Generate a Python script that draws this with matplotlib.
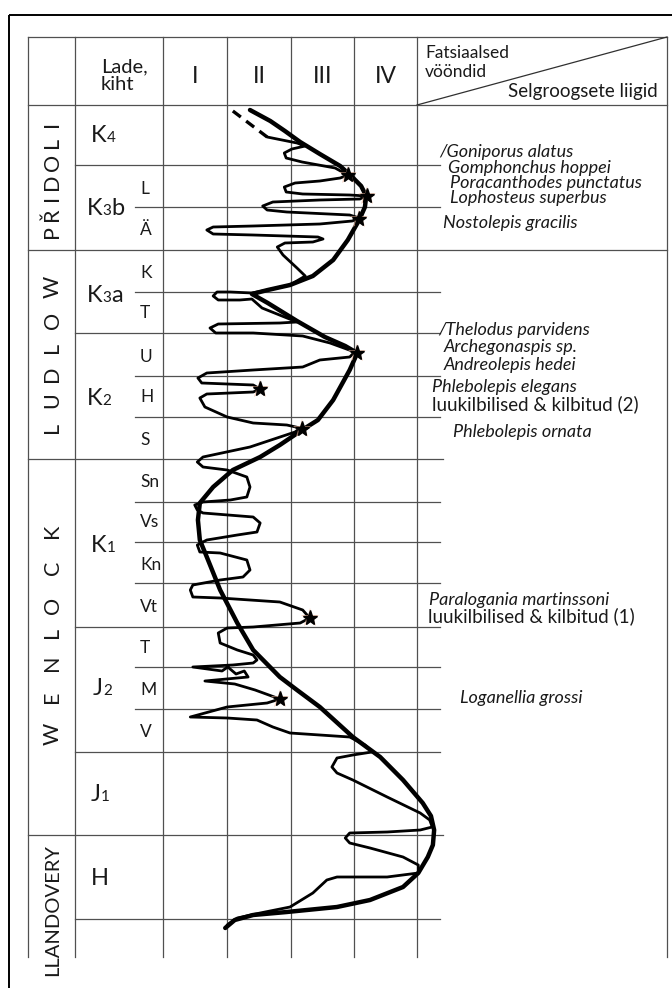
import matplotlib.pyplot as plt
from matplotlib.patches import Rectangle

plt.rcParams['font.family'] = ['Lato', 'DejaVu Sans']

W, H = 672, 988

# table grid, px
col_x = [28, 75, 163, 227, 291, 354, 417, 667]
top_y, head_y, bottom_y = 37, 105, 957
series_y = [250, 459, 835]
stage_y = [165, 333, 627, 752, 919]
sub_y = [207, 292, 376, 417, 502, 542, 583, 667, 709]

zones = ['I', 'II', 'III', 'IV']

# series names, letters from the bottom up
series_names = ['PŘIDOLI', 'LUDLOW', 'WENLOCK']
series_letter_y = [
    [232, 214, 198, 182, 162, 142, 124],
    [427, 400, 374, 347, 320, 287],
    [734, 697, 663, 632, 605, 568, 531],
]

# stages (lade): letter, index, suffix, baseline
stage_main = ['K', 'K', 'K', 'K', 'K', 'J', 'J', 'H']
stage_num = ['4', '3', '3', '2', '1', '2', '1', '']
stage_tail = ['', 'b', 'a', '', '', '', '', '']
stage_base = [142, 215, 302, 405, 552, 695, 801, 885]
stage_left = [91, 87, 87, 87, 91, 93, 91, 91]

# beds (kiht)
bed_names = ['L', 'Ä', 'K', 'T', 'U', 'H', 'S', 'Sn', 'Vs', 'Kn', 'Vt', 'T', 'M', 'V']
bed_base = [194, 235, 278, 318, 362, 402, 445, 487, 527, 570, 612, 653, 695, 737]

# vertebrate taxa
taxa = ['/Goniporus alatus', 'Gomphonchus hoppei', 'Poracanthodes punctatus',
        'Lophosteus superbus', 'Nostolepis gracilis', '/Thelodus parvidens',
        'Archegonaspis sp.', 'Andreolepis hedei', 'Phlebolepis elegans',
        'luukilbilised & kilbitud (2)', 'Phlebolepis ornata',
        'Paralogania martinssoni', 'luukilbilised & kilbitud (1)',
        'Loganellia grossi']
taxa_x = [439, 448, 450, 450, 443, 438, 444, 444, 432, 432, 453, 429, 428, 460]
taxa_base = [157, 173, 188, 203, 228, 335, 352, 370, 392, 410, 437, 605, 622, 703]
taxa_italic = [True] * 9 + [False, True, True, False, True]

# facies curves: zone position (0..4 across I-IV) vs level (px)
thin_zone = [1.64, 2.11, 2.24, 2.03, 1.91, 1.94, 2.19, 2.71, 2.91, 2.79, 2.47, 2.08,
             1.91, 1.94, 2.20, 2.94, 3.20, 3.10, 2.47, 1.73, 1.57, 1.64, 1.95, 2.94,
             3.09, 2.98, 2.47, 1.42, 0.79, 0.69, 0.79, 1.42, 2.44, 2.52, 2.36, 1.92,
             1.80, 1.89, 2.11, 2.24, 2.00, 1.65, 1.40, 1.06, 0.85, 0.79, 0.87, 1.21,
             1.40, 1.56, 2.11, 1.84, 0.87, 0.74, 0.83, 1.42, 2.20, 2.63, 3.02, 2.94,
             2.47, 2.20, 1.42, 0.69, 0.55, 0.61, 1.42, 1.53, 1.42, 0.69, 0.58, 0.66,
             1.01, 1.42, 1.95, 2.16, 2.08, 1.37, 0.63, 0.54, 0.63, 1.01, 1.32, 1.37,
             1.32, 1.06, 0.63, 0.50, 0.54, 0.63, 1.42, 1.53, 1.48, 1.17, 0.69, 0.54,
             0.58, 0.90, 1.32, 1.37, 1.26, 0.90, 0.47, 0.43, 0.47, 0.90, 1.84, 2.20,
             2.31, 2.16, 1.42, 1.01, 0.87, 0.90, 1.17, 1.42, 1.48, 1.42, 1.10, 0.47,
             0.93, 1.02, 1.15, 1.28, 1.34, 0.66, 1.13, 1.45, 1.84, 1.64, 1.01, 0.43,
             1.01, 1.48, 1.73, 2.00, 2.47, 2.94, 3.18, 3.29, 2.99, 2.74, 2.66, 2.74,
             2.99, 3.53, 4.05, 4.20, 4.24, 4.05, 3.53, 2.94, 2.87, 2.94, 3.26, 3.78,
             4.02, 4.02, 3.53, 2.74, 2.58, 2.36, 2.00, 1.53, 1.17, 1.01]
thin_level = [137, 143, 146, 149, 153, 158, 162, 168, 175, 178, 181, 183,
              187, 192, 194, 195, 196, 199, 200, 202, 206, 210, 212, 215,
              218, 221, 224, 226, 227, 230, 234, 235, 237, 239, 242, 243,
              247, 255, 268, 276, 285, 290, 293, 292, 292, 296, 300, 300,
              299, 308, 322, 323, 324, 328, 333, 333, 336, 343, 352, 357,
              360, 367, 370, 373, 378, 383, 385, 389, 392, 394, 398, 407,
              417, 423, 425, 428, 432, 447, 457, 462, 467, 470, 477, 487,
              497, 500, 502, 505, 510, 513, 517, 523, 532, 535, 540, 545,
              552, 553, 560, 570, 577, 580, 585, 590, 597, 598, 602, 610,
              618, 623, 627, 628, 633, 643, 650, 655, 660, 663, 665, 667,
              671, 667, 674, 671, 677, 681, 684, 690, 699, 703, 707, 717,
              718, 720, 727, 733, 735, 737, 745, 752, 755, 758, 767, 773,
              780, 797, 813, 820, 827, 830, 832, 833, 838, 843, 848, 857,
              865, 873, 877, 877, 880, 893, 907, 913, 918, 925]

dash_zone = [1.10, 1.64]
dash_level = [111, 137]

thick_zone = [1.37, 1.69, 1.92, 2.16, 2.47, 2.79, 2.98, 3.12, 3.20, 3.18, 3.09, 2.91,
              2.68, 2.36, 2.00, 1.65, 1.40, 1.65, 2.11, 2.55, 2.87, 3.06, 2.94, 2.68,
              2.44, 2.19, 1.84, 1.53, 1.10, 0.79, 0.58, 0.55, 0.58, 0.69, 0.90, 1.17,
              1.42, 1.84, 2.11, 2.47, 2.99, 3.42, 3.78, 4.09, 4.22, 4.27, 4.25, 4.17,
              4.02, 3.78, 3.26, 2.74, 1.95, 1.42, 1.13, 0.98]
thick_level = [110, 121, 131, 142, 154, 166, 177, 186, 196, 207, 220, 240,
               260, 276, 285, 290, 294, 303, 321, 337, 346, 353, 370, 400,
               420, 430, 445, 457, 470, 487, 503, 520, 540, 557, 590, 623,
               650, 677, 690, 707, 737, 757, 780, 803, 816, 830, 845, 857,
               873, 887, 900, 907, 912, 915, 920, 928]

star_zone = [2.91, 3.21, 3.09, 3.06, 1.53, 2.19, 2.31, 1.84]
star_level = [175, 196, 219, 353, 389, 429, 618, 699]


fig = plt.figure(figsize=(W / 100, H / 100), dpi=100)
ax = fig.add_axes([0, 0, 1, 1])
ax.set_xlim(0, W)
ax.set_ylim(H, 0)
ax.axis('off')

grid = dict(color='#505050', lw=0.9, zorder=1)
ink = '#1a1a1a'

# outer frame
ax.add_patch(Rectangle((9, 15), 700, 1000, fill=False, ec='black', lw=1.4))

# table outline and columns
ax.plot([col_x[0], col_x[-1]], [top_y, top_y], **grid)
ax.plot([col_x[0], col_x[-1]], [head_y, head_y], **grid)
for x in col_x:
    ax.plot([x, x], [top_y, bottom_y], **grid)
ax.plot([col_x[6], col_x[-1]], [head_y, top_y], color='#303030', lw=0.9)

for y in series_y:
    right = col_x[-1] if y == series_y[0] else 443
    ax.plot([col_x[0], right], [y, y], **grid)
for y in stage_y:
    ax.plot([col_x[1], 440], [y, y], **grid)
for y in sub_y:
    ax.plot([135, 440], [y, y], **grid)

# header
ax.text(101, 72, 'Lade,', fontsize=14.5, color=ink, va='baseline')
ax.text(101, 90, 'kiht', fontsize=14.5, color=ink, va='baseline')
for i, z in enumerate(zones):
    xc = (col_x[2 + i] + col_x[3 + i]) / 2
    ax.text(xc, 83, z, fontsize=16.5, color=ink, ha='center', va='baseline')
ax.text(425, 58, 'Fatsiaalsed', fontsize=12.5, color=ink, va='baseline')
ax.text(425, 77, 'vööndid', fontsize=12.5, color=ink, va='baseline')
ax.text(658, 97, 'Selgroogsete liigid', fontsize=13.5, color=ink, ha='right', va='baseline')

# series, rotated letters
xc = (col_x[0] + col_x[1]) / 2 + 1
for name, ys in zip(series_names, series_letter_y):
    for ch, y in zip(name, ys):
        ax.text(xc, y, ch, fontsize=15.5, color=ink, rotation=90,
                ha='center', va='center')
ax.text(xc, 910, 'LLANDOVERY', fontsize=14.5, color=ink, rotation=90,
        ha='center', va='center')

# stages with small index figures
r = fig.canvas.get_renderer()
for m, n, t, y, x in zip(stage_main, stage_num, stage_tail, stage_base, stage_left):
    for s, size in ((m, 17), (n, 11), (t, 17)):
        if not s:
            continue
        txt = ax.text(x, y, s, fontsize=size, color=ink, va='baseline')
        x = txt.get_window_extent(r).x1

for name, y in zip(bed_names, bed_base):
    ax.text(140, y, name, fontsize=12.5, color=ink, va='baseline')

for name, x, y, it in zip(taxa, taxa_x, taxa_base, taxa_italic):
    ax.text(x, y, name, fontsize=13 if it else 13.5, color=ink,
            style='italic' if it else 'normal', va='baseline')

# facies curves over zones I-IV
ax2 = fig.add_axes([col_x[2] / W, 0, (col_x[6] - col_x[2]) / W, 1])
ax2.set_xlim(0, 4)
ax2.set_ylim(H, 0)
ax2.axis('off')

ax2.plot(thick_zone, thick_level, color='black', lw=3.2, clip_on=False,
         solid_joinstyle='round', solid_capstyle='round')
ax2.plot(thin_zone, thin_level, color='black', lw=2.0, clip_on=False,
         solid_joinstyle='round', solid_capstyle='round')
ax2.plot(dash_zone, dash_level, color='black', lw=2.4, dashes=(3, 2), clip_on=False)

ax2.plot(star_zone, star_level, ls='none', marker='*', ms=14, color='#f2b99e',
         alpha=0.6, mew=0, clip_on=False)
ax2.plot(star_zone, star_level, ls='none', marker='*', ms=11, color='black',
         clip_on=False)

fig.savefig('out.png', dpi=100)
